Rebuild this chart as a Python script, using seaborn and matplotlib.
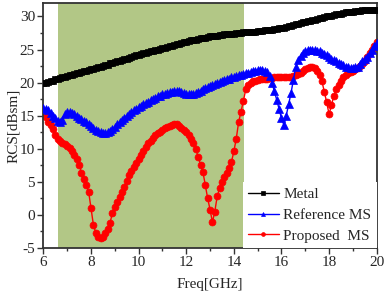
import numpy as np
import pandas as pd
import matplotlib
matplotlib.use("Agg")
import matplotlib.pyplot as plt
import seaborn as sns

# ==============================================================
#  DATA  (RCS in dBsm, sampled every 0.1 GHz from 6 to 20 GHz)
# ==============================================================

freq = np.round(np.arange(6.0, 20.05, 0.1), 1)

metal = [
    19.9, 20.0, 20.1, 20.2, 20.3, 20.5, 20.6, 20.7, 20.8, 20.9,
    21.0, 21.1, 21.2, 21.3, 21.4, 21.5, 21.6, 21.7, 21.8, 21.9,
    22.0, 22.1, 22.2, 22.3, 22.4, 22.5, 22.6, 22.7, 22.9, 23.0,
    23.1, 23.2, 23.3, 23.4, 23.5, 23.6, 23.7, 23.8, 24.0, 24.1,
    24.2, 24.3, 24.4, 24.5, 24.6, 24.7, 24.8, 24.9, 25.0, 25.1,
    25.2, 25.3, 25.4, 25.5, 25.6, 25.7, 25.8, 25.9, 26.0, 26.1,
    26.2, 26.3, 26.4, 26.5, 26.5, 26.6, 26.7, 26.8, 26.8, 26.9,
    27.0, 27.0, 27.1, 27.1, 27.2, 27.2, 27.3, 27.3, 27.4, 27.4,
    27.4, 27.5, 27.5, 27.5, 27.6, 27.6, 27.6, 27.7, 27.7, 27.7,
    27.8, 27.8, 27.8, 27.9, 27.9, 28.0, 28.0, 28.1, 28.1, 28.2,
    28.3, 28.3, 28.4, 28.5, 28.6, 28.7, 28.8, 28.9, 29.0, 29.1,
    29.2, 29.3, 29.3, 29.4, 29.5, 29.6, 29.7, 29.8, 29.9, 30.0,
    30.0, 30.1, 30.2, 30.3, 30.4, 30.4, 30.5, 30.6, 30.6, 30.7,
    30.7, 30.8, 30.8, 30.8, 30.9, 30.9, 30.9, 31.0, 31.0, 31.0,
    31.0,
]

reference_ms = [
    16.2, 16.0, 15.8, 15.4, 15.0, 14.6, 14.2, 14.0, 14.3, 15.2,
    15.6, 15.5, 15.4, 15.2, 15.0, 14.7, 14.5, 14.2, 14.0, 13.7,
    13.5, 13.2, 12.9, 12.7, 12.5, 12.4, 12.4, 12.5, 12.7, 13.0,
    13.3, 13.7, 14.0, 14.3, 14.7, 15.0, 15.3, 15.6, 15.8, 16.0,
    16.3, 16.5, 16.7, 16.9, 17.1, 17.3, 17.5, 17.7, 17.9, 18.0,
    18.2, 18.3, 18.4, 18.5, 18.6, 18.7, 18.7, 18.7, 18.6, 18.4,
    18.3, 18.2, 18.2, 18.3, 18.4, 18.6, 18.8, 19.0, 19.2, 19.3,
    19.5, 19.6, 19.8, 19.9, 20.1, 20.2, 20.4, 20.5, 20.6, 20.8,
    20.9, 21.0, 21.1, 21.2, 21.3, 21.4, 21.5, 21.6, 21.7, 21.8,
    21.9, 21.9, 21.9, 21.8, 21.6, 21.0, 20.0, 18.7, 17.4, 16.0,
    14.6, 13.6, 15.0, 16.7, 18.4, 20.4, 22.3, 23.4, 24.0, 24.5,
    24.7, 24.9, 25.0, 25.0, 24.9, 24.8, 24.7, 24.5, 24.3, 24.1,
    23.9, 23.6, 23.4, 23.2, 23.0, 22.8, 22.6, 22.4, 22.3, 22.2,
    22.2, 22.3, 22.4, 22.8, 23.2, 23.5, 23.8, 24.4, 25.0, 25.6,
    26.0,
]

proposed_ms = [
    15.4, 14.8, 14.1, 13.6, 13.0, 12.1, 11.5, 11.2, 10.9, 10.7,
    10.4, 10.1, 9.7, 9.1, 8.4, 7.6, 6.4, 5.4, 4.5, 3.5,
    1.0, -1.5, -2.7, -3.3, -3.5, -3.3, -2.8, -2.1, -1.2, 0.3,
    1.2, 2.0, 2.7, 3.4, 4.2, 5.1, 6.0, 6.6, 7.2, 7.8,
    8.4, 9.0, 9.6, 10.2, 10.8, 11.2, 11.6, 12.0, 12.3, 12.6,
    12.9, 13.1, 13.3, 13.5, 13.6, 13.7, 13.7, 13.5, 13.2, 12.9,
    12.5, 12.0, 11.5, 10.8, 9.9, 8.8, 7.6, 6.5, 4.5, 2.5,
    0.8, -1.1, 0.5, 2.8, 4.0, 5.0, 5.7, 6.4, 7.1, 8.0,
    9.6, 11.5, 14.0, 15.6, 17.2, 19.0, 19.7, 20.0, 20.2, 20.3,
    20.4, 20.5, 20.5, 20.6, 20.6, 20.7, 20.7, 20.8, 20.8, 20.8,
    20.8, 20.8, 20.9, 20.9, 20.9, 21.0, 21.1, 21.3, 21.5, 21.8,
    22.0, 22.2, 22.4, 22.4, 22.2, 21.8, 21.2, 20.2, 18.6, 17.0,
    15.2, 16.6, 18.0, 19.0, 19.7, 20.3, 20.8, 21.2, 21.4, 21.6,
    21.8, 22.0, 22.2, 22.5, 22.8, 23.3, 23.8, 24.4, 25.0, 25.6,
    26.2,
]

band = (6.6, 14.42)   # shaded absorption band in GHz

df = pd.DataFrame({
    "Freq": freq,
    "Metal": metal,
    "Reference MS": reference_ms,
    "Proposed  MS": proposed_ms,
})

# ==============================================================
#  PLOT
# ==============================================================

sns.set_style("ticks")
plt.rcParams["font.family"] = ["Liberation Serif", "DejaVu Serif"]
plt.rcParams["axes.unicode_minus"] = False

fig = plt.figure(figsize=(3.84, 2.92), dpi=100)
ax = fig.add_axes([0.113, 0.151, 0.868, 0.838])

ax.axvspan(band[0], band[1], color="#b2c786", lw=0, zorder=0)

styles = {
    "Metal": dict(color="black", marker="s", ms=4.6, zorder=4),
    "Reference MS": dict(color="#0000ff", marker="^", ms=5.2, zorder=3),
    "Proposed  MS": dict(color="#ff0000", marker="o", ms=5.0, zorder=2),
}

for name, st in styles.items():
    sns.lineplot(data=df, x="Freq", y=name, ax=ax, color=st["color"],
                 marker=st["marker"], markersize=st["ms"], markeredgewidth=0.5,
                 markeredgecolor=st["color"], linewidth=1.0,
                 zorder=st["zorder"], label=name)

ax.set_xlim(6, 20)
ax.set_ylim(-5, 32)
ax.set_xticks(range(6, 21, 2))
ax.set_yticks(range(-5, 31, 5))
ax.set_xticks(range(7, 20, 2), minor=True)
ax.set_yticks(np.arange(-2.5, 31, 5), minor=True)
ax.tick_params(which="major", direction="out", length=4, width=1.0,
               labelsize=11, color="#333333", pad=2)
ax.tick_params(which="minor", direction="out", length=2.5, width=1.0,
               color="#333333")

for sp in ax.spines.values():
    sp.set_linewidth(1.3)
    sp.set_color("#333333")

ax.set_xlabel("Freq[GHz]", fontsize=11, labelpad=6)
ax.set_ylabel("RCS[dBsm]", fontsize=11, labelpad=0)

leg = ax.legend(loc="lower right", fontsize=11, frameon=True,
                facecolor="white", edgecolor="none", framealpha=1,
                borderaxespad=0.0, borderpad=0.35, handlelength=2.0,
                handletextpad=0.3, labelspacing=0.45, markerscale=0.55)
leg.get_frame().set_boxstyle("square", pad=0)
leg.set_zorder(10)

plt.savefig("out.png", dpi=100)
plt.close()
